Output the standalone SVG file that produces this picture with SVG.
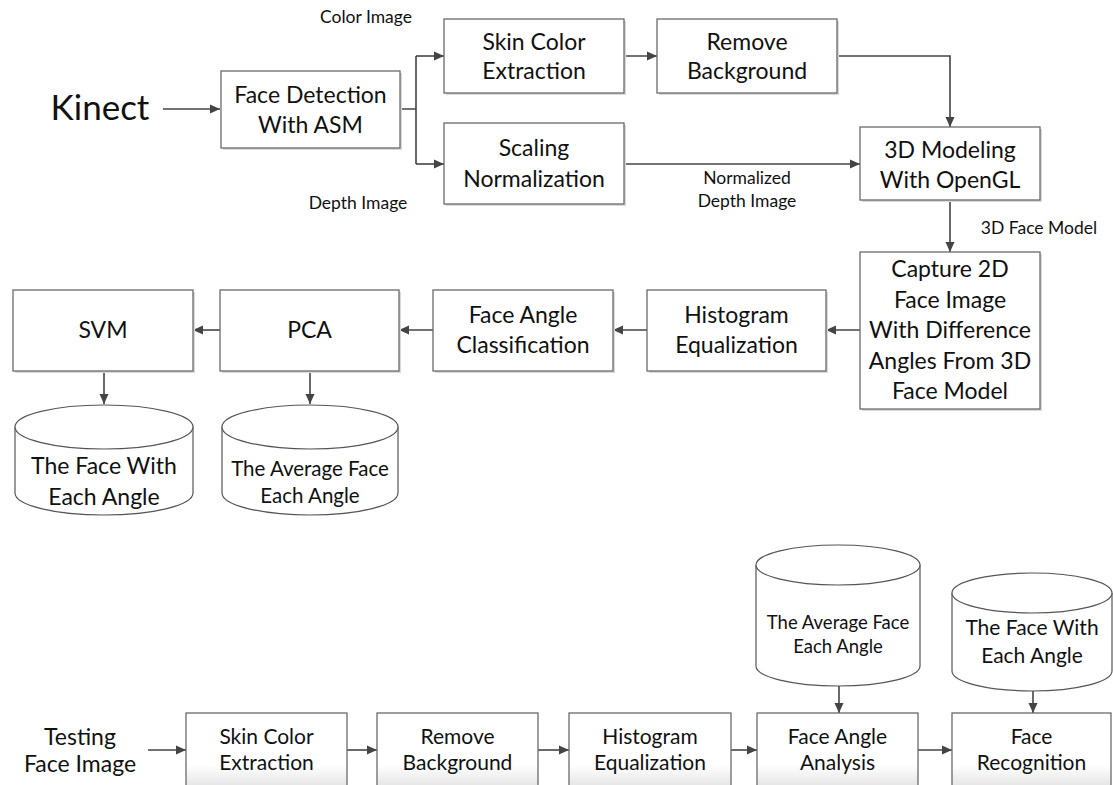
<svg xmlns="http://www.w3.org/2000/svg" width="1113" height="785" viewBox="0 0 1113 785">
<style>
  text { font-family: Lato, "Liberation Sans", sans-serif; fill: #111; text-anchor: middle; }
  .b { font-size: 23px; }
  .bs { font-size: 21px; }
  .lab { font-size: 17.5px; }
  .box { fill: #fff; stroke: #6a6a6a; stroke-width: 1.3; }
  .boxg { fill: url(#fade); stroke: #6a6a6a; stroke-width: 1.3; }
  .sh { fill: #d9d9d9; }
  .cyl { fill: #fff; stroke: #555; stroke-width: 1.2; }
  .ln { fill: none; stroke: #444; stroke-width: 1.6; }
  .ar { fill: none; stroke: #444; stroke-width: 1.6; marker-end: url(#ah); }
</style>
<defs>
  <marker id="ah" viewBox="0 0 10 10" refX="10" refY="5" markerWidth="10" markerHeight="10" markerUnits="userSpaceOnUse" orient="auto">
    <path d="M0,0.5 L10,5 L0,9.5 Z" fill="#444"/>
  </marker>
  <linearGradient id="fade" x1="0" y1="0" x2="0" y2="1">
    <stop offset="0" stop-color="#fff"/>
    <stop offset="0.7" stop-color="#fff"/>
    <stop offset="1" stop-color="#e4e4e4"/>
  </linearGradient>
</defs>
<rect width="1113" height="785" fill="#fff"/>

<!-- labels -->
<g id="labels">
  <text x="100" y="108" dy="0.35em" style="font-size:35px">Kinect</text>
  <text class="lab" x="366" y="17" dy="0.35em">Color Image</text>
  <text class="lab" x="358" y="203" dy="0.35em">Depth Image</text>
  <text class="lab" x="747" y="178" dy="0.35em">Normalized</text>
  <text class="lab" x="747" y="201" dy="0.35em">Depth Image</text>
  <text class="lab" x="1039" y="228" dy="0.35em">3D Face Model</text>
  <text class="b" x="80" y="737" dy="0.35em">Testing</text>
  <text class="b" x="80" y="764" dy="0.35em">Face Image</text>
</g>

<!-- connectors -->
<g id="connectors">
  <path class="ar" d="M163,109 H220"/>
  <path class="ln" d="M400,109 H416 M416,56 V164"/>
  <path class="ar" d="M416,56 H444"/>
  <path class="ar" d="M416,164 H444"/>
  <path class="ar" d="M624,56 H657"/>
  <path class="ar" d="M837,56 H950 V127"/>
  <path class="ar" d="M624,164 H860"/>
  <path class="ar" d="M950,200 V252"/>
  <path class="ar" d="M860,330 H826"/>
  <path class="ar" d="M647,330 H613"/>
  <path class="ar" d="M433,330 H399"/>
  <path class="ar" d="M220,330 H193"/>
  <path class="ar" d="M104,371 V404"/>
  <path class="ar" d="M310,371 V404"/>
  <path class="ar" d="M148,750 H186"/>
  <path class="ar" d="M347,750 H377"/>
  <path class="ar" d="M538,750 H569"/>
  <path class="ar" d="M731,750 H757"/>
  <path class="ar" d="M918,750 H952"/>
  <path class="ar" d="M839,686 V713"/>
  <path class="ar" d="M1033,691 V713"/>
</g>

<g id="face-detection">
  <rect class="sh" x="223" y="73" width="179" height="77"/>
  <rect class="box" x="221" y="71" width="179" height="77"/>
  <text class="b" x="310.5" y="95" dy="0.35em">Face Detection</text>
  <text class="b" x="310.5" y="125" dy="0.35em">With ASM</text>
</g>
<g id="skin-color-top">
  <rect class="sh" x="446" y="21" width="180" height="74"/>
  <rect class="box" x="444" y="19" width="180" height="74"/>
  <text class="b" x="534" y="42" dy="0.35em">Skin Color</text>
  <text class="b" x="534" y="71" dy="0.35em">Extraction</text>
</g>
<g id="remove-bg-top">
  <rect class="sh" x="659" y="21" width="180" height="74"/>
  <rect class="box" x="657" y="19" width="180" height="74"/>
  <text class="b" x="747" y="42" dy="0.35em">Remove</text>
  <text class="b" x="747" y="71" dy="0.35em">Background</text>
</g>
<g id="scaling">
  <rect class="sh" x="446" y="125" width="180" height="81"/>
  <rect class="box" x="444" y="123" width="180" height="81"/>
  <text class="b" x="534" y="148" dy="0.35em">Scaling</text>
  <text class="b" x="534" y="179" dy="0.35em">Normalization</text>
</g>
<g id="modeling">
  <rect class="sh" x="862" y="129" width="180" height="73"/>
  <rect class="box" x="860" y="127" width="180" height="73"/>
  <text class="b" x="950" y="150" dy="0.35em">3D Modeling</text>
  <text class="b" x="950" y="180" dy="0.35em">With OpenGL</text>
</g>
<g id="capture">
  <rect class="sh" x="862" y="254" width="180" height="157"/>
  <rect class="box" x="860" y="252" width="180" height="157"/>
  <text class="b" x="950" y="269" dy="0.35em">Capture 2D</text>
  <text class="b" x="950" y="300" dy="0.35em">Face Image</text>
  <text class="b" x="950" y="330" dy="0.35em">With Difference</text>
  <text class="b" x="950" y="361" dy="0.35em">Angles From 3D</text>
  <text class="b" x="950" y="391" dy="0.35em">Face Model</text>
</g>
<g id="histogram-top">
  <rect class="sh" x="649" y="292" width="179" height="81"/>
  <rect class="box" x="647" y="290" width="179" height="81"/>
  <text class="b" x="736.5" y="315" dy="0.35em">Histogram</text>
  <text class="b" x="736.5" y="345" dy="0.35em">Equalization</text>
</g>
<g id="face-angle-class">
  <rect class="sh" x="435" y="292" width="180" height="81"/>
  <rect class="box" x="433" y="290" width="180" height="81"/>
  <text class="b" x="523" y="315" dy="0.35em">Face Angle</text>
  <text class="b" x="523" y="345" dy="0.35em">Classification</text>
</g>
<g id="pca">
  <rect class="sh" x="222" y="292" width="179" height="81"/>
  <rect class="box" x="220" y="290" width="179" height="81"/>
  <text class="b" x="309.5" y="330" dy="0.35em">PCA</text>
</g>
<g id="svm">
  <rect class="sh" x="15" y="292" width="180" height="81"/>
  <rect class="box" x="13" y="290" width="180" height="81"/>
  <text class="b" x="103" y="330" dy="0.35em">SVM</text>
</g>
<g id="db-face-top">
  <path class="cyl" d="M15,427 A89,22 0 0 1 193,427 V493 A89,22 0 0 1 15,493 Z"/>
  <path class="cyl" d="M15,427 A89,22 0 0 0 193,427"/>
  <text class="b" x="104" y="466" dy="0.35em">The Face With</text>
  <text class="b" x="104" y="497" dy="0.35em">Each Angle</text>
</g>
<g id="db-average-top">
  <path class="cyl" d="M222,427 A88,22 0 0 1 398,427 V493 A88,22 0 0 1 222,493 Z"/>
  <path class="cyl" d="M222,427 A88,22 0 0 0 398,427"/>
  <text x="310" y="469" dy="0.35em" style="font-size:20.5px">The Average Face</text>
  <text x="310" y="496" dy="0.35em" style="font-size:20.5px">Each Angle</text>
</g>

<g id="skin-color-bottom">
  <rect class="boxg" x="186" y="713" width="161" height="74"/>
  <text class="bs" x="266.5" y="737" dy="0.35em">Skin Color</text>
  <text class="bs" x="266.5" y="763" dy="0.35em">Extraction</text>
</g>
<g id="remove-bg-bottom">
  <rect class="boxg" x="377" y="713" width="161" height="74"/>
  <text class="bs" x="457.5" y="737" dy="0.35em">Remove</text>
  <text class="bs" x="457.5" y="763" dy="0.35em">Background</text>
</g>
<g id="histogram-bottom">
  <rect class="boxg" x="569" y="713" width="162" height="74"/>
  <text class="bs" x="650" y="737" dy="0.35em">Histogram</text>
  <text class="bs" x="650" y="763" dy="0.35em">Equalization</text>
</g>
<g id="face-angle-analysis">
  <rect class="boxg" x="757" y="713" width="161" height="74"/>
  <text class="bs" x="837.5" y="737" dy="0.35em">Face Angle</text>
  <text class="bs" x="837.5" y="763" dy="0.35em">Analysis</text>
</g>
<g id="face-recognition">
  <rect class="boxg" x="952" y="713" width="159" height="74"/>
  <text class="bs" x="1031.5" y="737" dy="0.35em">Face</text>
  <text class="bs" x="1031.5" y="763" dy="0.35em">Recognition</text>
</g>
<g id="db-average-bottom">
  <path class="cyl" d="M756,565 A82,20 0 0 1 920,565 V666 A82,20 0 0 1 756,666 Z"/>
  <path class="cyl" d="M756,565 A82,20 0 0 0 920,565"/>
  <text x="838" y="623" dy="0.35em" style="font-size:18.5px">The Average Face</text>
  <text x="838" y="647" dy="0.35em" style="font-size:18.5px">Each Angle</text>
</g>
<g id="db-face-bottom">
  <path class="cyl" d="M952,593 A80,20 0 0 1 1112,593 V671 A80,20 0 0 1 952,671 Z"/>
  <path class="cyl" d="M952,593 A80,20 0 0 0 1112,593"/>
  <text class="bs" x="1032" y="628" dy="0.35em">The Face With</text>
  <text class="bs" x="1032" y="656" dy="0.35em">Each Angle</text>
</g>
</svg>
